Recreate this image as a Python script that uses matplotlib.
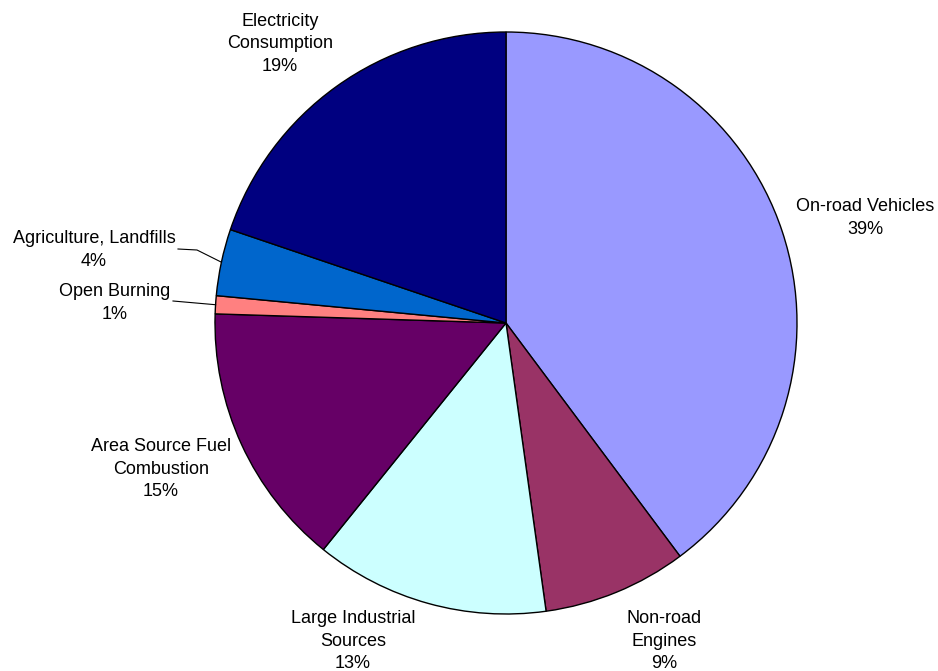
import matplotlib
matplotlib.use("Agg")
import matplotlib.pyplot as plt
import numpy as np

categories = ["On-road Vehicles", "Non-road\nEngines", "Large Industrial\nSources",
              "Area Source Fuel\nCombustion", "Open Burning", "Agriculture, Landfills",
              "Electricity\nConsumption"]
values = [39.8, 8.0, 13.0, 14.7, 1.0, 3.7, 19.8]
pct_labels = ["39%", "9%", "13%", "15%", "1%", "4%", "19%"]
colors = ["#9999FF", "#993366", "#CCFFFF", "#660066", "#FF8080", "#0066CC", "#000080"]

W, H = 938, 671
fig = plt.figure(figsize=(W / 100, H / 100), dpi=100)
ax = fig.add_axes([0, 0, 1, 1])
cx, cy, R = 506, H - 323, 291
wedges, _ = ax.pie(values, colors=colors, startangle=90, counterclock=False,
                   center=(cx, cy), radius=R, frame=True,
                   wedgeprops=dict(edgecolor="black", linewidth=1.0))
ax.set_xlim(0, W)
ax.set_ylim(0, H)
ax.set_aspect("equal")
ax.axis("off")

# label positions (pixel coordinates, y from top) and leader flags
label_pos = [(865, 218), (664, 641), (353, 641), (161, 469), (115, 303), (94, 250), (280, 44)]
leaders = [False, False, False, False, True, True, False]
leader_start = {4: (173, 301), 5: (178, 249)}

for i, (w, name, pct) in enumerate(zip(wedges, categories, pct_labels)):
    x, y = label_pos[i]
    ax.text(x, H - y, name + "\n" + pct, ha="center", va="center",
            fontsize=13, family="Liberation Sans", linespacing=1.45, color="black")
    if leaders[i]:
        ang = np.deg2rad((w.theta1 + w.theta2) / 2)
        ex, ey = cx + R * np.cos(ang), cy + R * np.sin(ang)
        sx, sy = leader_start[i]
        if i == 5:
            ax.plot([sx, 197, ex], [H - sy, H - 250, ey], color="black", lw=0.8)
        else:
            ax.plot([sx, ex], [H - sy, ey], color="black", lw=0.8)

fig.savefig("out.png", dpi=100)
